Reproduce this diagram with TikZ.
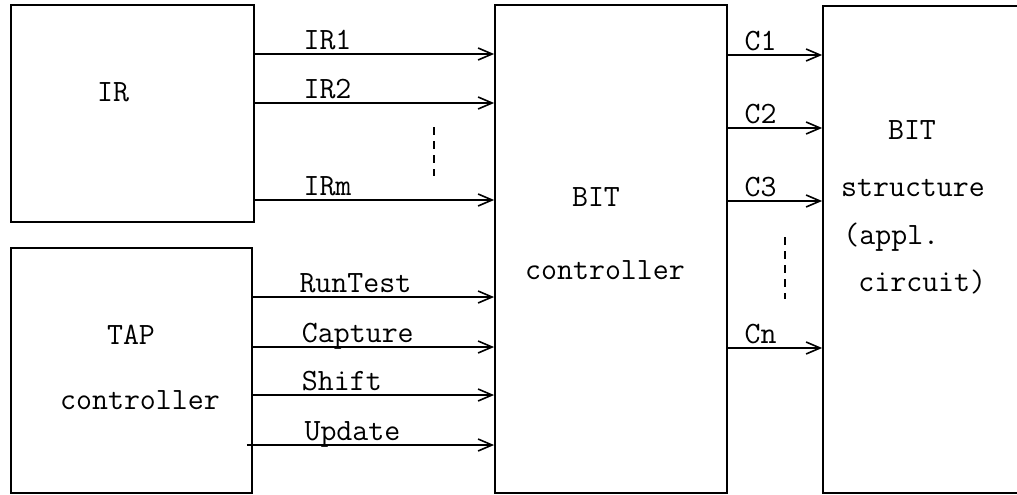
\documentclass[tikz,border=0pt]{standalone}
\usetikzlibrary{arrows.meta,fit}

\tikzset{
  box/.style={draw, line width=0.9pt, inner sep=0pt},
  lbl/.style={font=\ttfamily\fontsize{15.5}{18}\selectfont, inner sep=0pt},
  sig/.style={line width=0.8pt, -{Straight Barb[length=7pt,width=6pt,line width=0.8pt]}},
  siglbl/.style={lbl, anchor=base west, yshift=2.5pt},
}

\begin{document}
\begin{tikzpicture}[x=0.5pt,y=-0.5pt]
\useasboundingbox (0,0) rectangle (1017,494);
\clip (0,0) rectangle (1017,494);

% Blocks
\node[box, fit={(11,5) (254,222)}] (ir) {};
\node[box, fit={(11,248) (252,493)}] (tap) {};
\node[box, fit={(495,5) (727,493)}] (bitc) {};
\node[box, fit={(823,6) (1080,493)}] (bits) {};

% Block texts
\node[lbl] (irtxt) at (113,92) {IR};
\node[lbl] (taptxt) at (131,335) {TAP};
\node[lbl] (tapctl) at (140,400) {controller};
\node[lbl] (bitctxt) at (596,197) {BIT};
\node[lbl] (bitcctl) at (605,270) {controller};
\node[lbl] (bitstxt) at (912,130) {BIT};
\node[lbl] (bitsstr) at (913,188) {structure};
\node[lbl, anchor=west] (bitsappl) at (843,237) {(appl.};
\node[lbl, anchor=west] (bitscirc) at (858,282) {circuit)};

% IR outputs
\draw[sig] (ir.east |- 0,54) -- node[siglbl, pos=0.2] {IR1} (bitc.west |- 0,54);
\draw[sig] (ir.east |- 0,103) -- node[siglbl, pos=0.2] {IR2} (bitc.west |- 0,103);
\draw[sig] (ir.east |- 0,200) -- node[siglbl, pos=0.2] {IRm} (bitc.west |- 0,200);
\draw[line width=0.8pt, dashed, dash pattern=on 4pt off 3pt] (434,127) -- (434,176);

% TAP controller outputs
\draw[sig] (tap.east |- 0,297) -- node[siglbl, pos=0.19] {RunTest} (bitc.west |- 0,297);
\draw[sig] (tap.east |- 0,347) -- node[siglbl, pos=0.2] {Capture} (bitc.west |- 0,347);
\draw[sig] (tap.east |- 0,395) -- node[siglbl, pos=0.2] {Shift} (bitc.west |- 0,395);
\draw[sig] ([xshift=-3pt]tap.east |- 0,445) -- node[siglbl, pos=0.23] {Update} (bitc.west |- 0,445);

% BIT controller outputs
\draw[sig] (bitc.east |- 0,55) -- node[siglbl, pos=0.17] {C1} (bits.west |- 0,55);
\draw[sig] (bitc.east |- 0,128) -- node[siglbl, pos=0.17] {C2} (bits.west |- 0,128);
\draw[sig] (bitc.east |- 0,201) -- node[siglbl, pos=0.17] {C3} (bits.west |- 0,201);
\draw[sig] (bitc.east |- 0,348) -- node[siglbl, pos=0.17] {Cn} (bits.west |- 0,348);
\draw[line width=0.8pt, dashed, dash pattern=on 4pt off 3pt] (785,237) -- (785,299);

\end{tikzpicture}
\end{document}
